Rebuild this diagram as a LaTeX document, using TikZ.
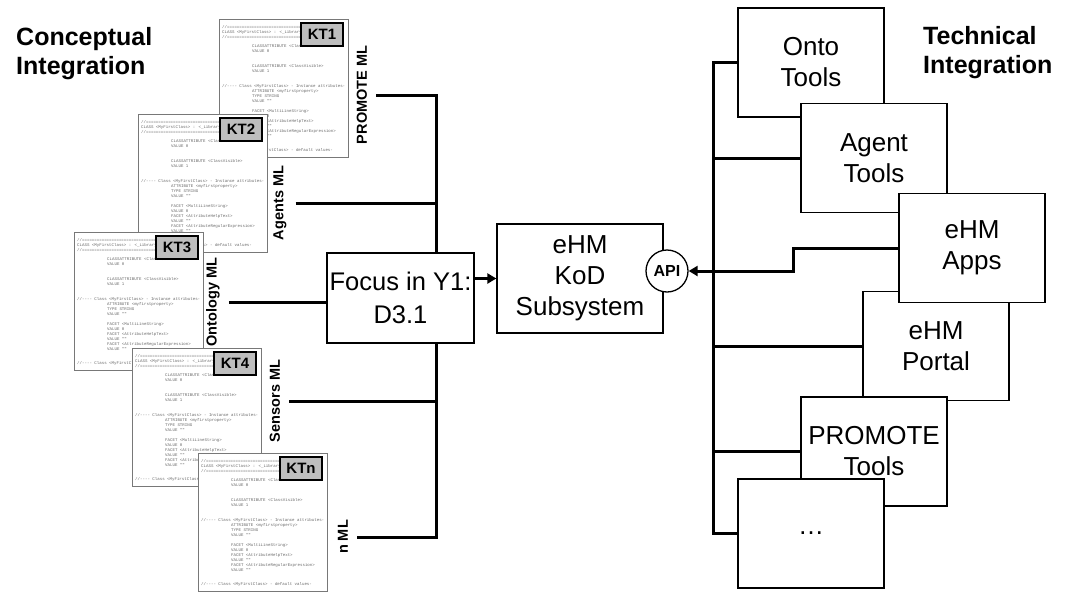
\documentclass[tikz,border=0pt]{standalone}
\usepackage{fontspec}
\setmainfont{Liberation Sans}
\newfontfamily\codefont{Liberation Mono}
\usetikzlibrary{arrows.meta,backgrounds}

\definecolor{ktgray}{RGB}{190,190,190}
\definecolor{pageborder}{RGB}{120,120,120}
\definecolor{codegray}{RGB}{105,105,105}

% indentation of the code listing
\newcommand\ind{\hspace*{30pt}}

% listing printed on every modelling-language page
\newcommand\codetext{%
//==============================================\\
CLASS <MyFirstClass> : <\_LibraryClass>\\
//==============================================\\
\mbox{}\\
\ind CLASSATTRIBUTE <ClassAbstract>\\
\ind VALUE 0\\
\mbox{}\\
\mbox{}\\
\ind CLASSATTRIBUTE <ClassVisible>\\
\ind VALUE 1\\
\mbox{}\\
\mbox{}\\
//-{}-{}-{}- Class <MyFirstClass> - Instance attributes-\\
\ind ATTRIBUTE <myfirstproperty>\\
\ind TYPE STRING\\
\ind VALUE ""\\
\mbox{}\\
\ind FACET <MultiLineString>\\
\ind VALUE 0\\
\ind FACET <AttributeHelpText>\\
\ind VALUE ""\\
\ind FACET <AttributeRegularExpression>\\
\ind VALUE ""\\
\mbox{}\\
\mbox{}\\
//-{}-{}-{}- Class <MyFirstClass> - default values-}

\tikzset{
  bus/.style={line width=3pt},
  arr/.style={line width=3pt, -{Triangle[length=9pt,width=10pt]}},
  box/.style={draw, line width=1.3pt, fill=white, align=center, inner sep=0pt,
    font=\fontsize{26}{31}\selectfont},
  toolbox/.style={box, minimum width=146pt, minimum height=109pt},
  page/.style={draw=pageborder, line width=0.8pt, fill=white, anchor=north west,
    minimum width=129pt, minimum height=138pt, inner sep=0pt},
  code/.style={anchor=north west, inner sep=0pt, align=left, text=codegray,
    font=\codefont\fontsize{4.1}{4.95}\selectfont},
  ktbox/.style={draw, line width=1.8pt, fill=ktgray, minimum width=42pt,
    minimum height=23pt, inner sep=0pt, font=\bfseries\fontsize{15}{15}\selectfont},
  mllabel/.style={rotate=90, inner sep=0pt, font=\bfseries\fontsize{14.5}{14.5}\selectfont},
  title/.style={anchor=north west, align=left, inner sep=0pt,
    font=\bfseries\fontsize{25}{29}\selectfont},
}

% one knowledge-template page: name, top-left corner, tag
\newcommand\ktpage[3]{%
  \begin{scope}[shift={#2}]
    \node[page] (#1page) at (0,0) {};
    \node[code] (#1code) at (3,6) {\codetext};
    \node[ktbox] (#1tag) at (103,15.5) {#3};
  \end{scope}}

\begin{document}
\begin{tikzpicture}[x=1pt,y=-1pt]
\useasboundingbox (0,0) rectangle (1072,592);

% headings
\node[title] (concept) at (16,27) {Conceptual\\Integration};
\node[title] (technical) at (923,26) {Technical\\Integration};

% stacked modelling-language pages
\ktpage{kt1}{(219,19)}{KT1}
\ktpage{kt2}{(138,114)}{KT2}
\ktpage{kt3}{(74,232)}{KT3}
\ktpage{kt4}{(132,348)}{KT4}
\ktpage{ktn}{(198,453)}{KTn}

% modelling-language labels
\node[mllabel] (lpromote) at (362,95) {PROMOTE ML};
\node[mllabel] (lagents) at (280,203) {Agents ML};
\node[mllabel] (lonto) at (213,302) {Ontology ML};
\node[mllabel] (lsensors) at (275,401) {Sensors ML};
\node[mllabel] (lnml) at (343,537) {n ML};
\coordinate (lb) at (436,0);

% central boxes
\node[box, minimum width=147pt, minimum height=90pt,
      font=\fontsize{25.5}{33}\selectfont] (focus) at (400.5,298) {Focus in Y1:\\D3.1};
\node[box, minimum width=166pt, minimum height=109pt] (ehm) at (580,278.5) {eHM\\KoD\\Subsystem};
\node[circle, draw, line width=1.3pt, fill=white, minimum size=42pt, inner sep=0pt,
      font=\bfseries\fontsize{16}{16}\selectfont] (api) at (667,271) {API};

% technical tools
\node[toolbox] (onto) at (811,62.5) {Onto\\Tools};
\node[toolbox] (agent) at (874,158) {Agent\\Tools};
\node[toolbox] (portal) at (936,346) {eHM\\Portal};
\node[toolbox] (apps) at (972,248) {eHM\\Apps};
\node[toolbox] (promote) at (874,451.5) {PROMOTE\\Tools};
\node[toolbox] (dots) at (811,533.5) {\ldots};
\coordinate (rb) at (713,0);
\coordinate (appsbend) at (793,271);

\begin{pgfonlayer}{background}
  % conceptual bus
  \draw[bus] ([xshift=9pt]lpromote.south) -| (lnml.south -| lb) -- ([xshift=9pt]lnml.south);
  \draw[bus] ([xshift=9pt]lagents.south) -- (lagents.south -| lb);
  \draw[bus] ([xshift=9pt]lsensors.south) -- (lsensors.south -| lb);
  \draw[bus] ([xshift=9pt]lonto.south) -- (lonto.south -| focus.west);
  \draw[arr] (focus.east |- ehm.west) -- (ehm.west);
  % technical bus
  \draw[bus] (onto.west) -| (dots.west -| rb) -- (dots.west);
  \draw[bus] (agent.west) -- (agent.west -| rb);
  \draw[bus] (portal.west) -- (portal.west -| rb);
  \draw[bus] (promote.west) -- (promote.west -| rb);
  \draw[arr] (apps.west) -| (appsbend) -- (api.east);
\end{pgfonlayer}
\end{tikzpicture}
\end{document}
